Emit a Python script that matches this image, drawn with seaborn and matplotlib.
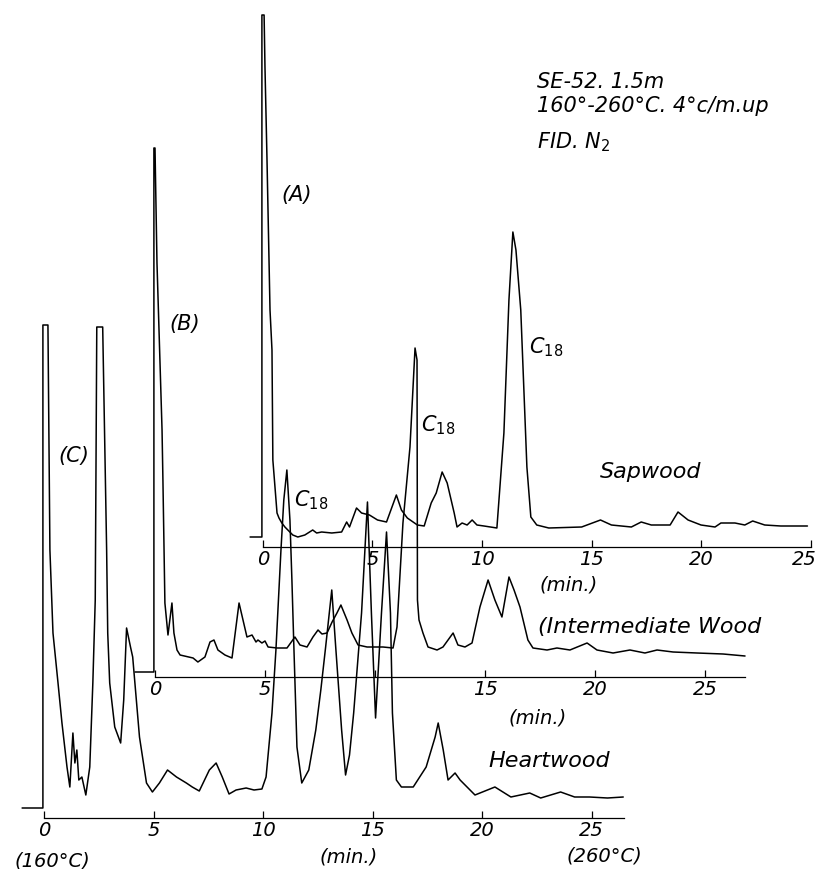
import pandas as pd
import matplotlib
matplotlib.use("Agg")
import matplotlib.pyplot as plt
import matplotlib.transforms as mtrans
import seaborn as sns

# gas chromatograms: (time in min, pen height in chart units)
sapwood = [
    (-0.59, 10), (-0.05, 10), (-0.05, 532), (0.05, 532), (0.09, 480), (0.18, 390),
    (0.32, 237), (0.41, 197), (0.45, 87), (0.64, 34), (0.73, 29), (0.86, 24),
    (1.0, 20), (1.36, 12), (1.59, 10), (1.91, 12), (2.27, 17), (2.45, 14),
    (2.68, 15), (3.14, 14), (3.59, 15), (3.82, 25), (3.95, 20), (4.27, 39),
    (4.5, 34), (4.86, 32), (5.23, 27), (5.64, 25), (6.09, 52), (6.32, 37),
    (6.59, 29), (7.05, 22), (7.36, 21), (7.68, 44), (7.91, 54), (8.18, 75),
    (8.41, 64), (8.73, 34), (8.86, 20), (9.09, 24), (9.32, 22), (9.55, 27),
    (9.77, 22), (10.09, 21), (10.68, 19), (11.0, 114), (11.23, 247), (11.41, 315),
    (11.55, 297), (11.77, 237), (12.05, 80), (12.23, 30), (12.5, 22), (13.05, 19),
    (14.55, 20), (15.41, 27), (15.91, 22), (16.82, 20), (17.27, 25), (17.73, 22),
    (18.59, 22), (18.95, 35), (19.41, 27), (20.0, 22), (20.64, 20), (20.91, 24),
    (21.55, 24), (22.0, 22), (22.36, 26), (22.91, 22), (23.64, 21), (24.86, 21),
]

intermediate = [
    (-0.91, 5), (-0.05, 5), (-0.05, 529), (0.0, 529), (0.09, 414), (0.32, 247),
    (0.36, 197), (0.45, 74), (0.59, 42), (0.77, 74), (0.86, 44), (1.0, 27),
    (1.14, 22), (1.73, 19), (1.95, 15), (2.27, 20), (2.5, 35), (2.68, 37),
    (2.86, 27), (3.18, 22), (3.5, 19), (3.82, 74), (4.0, 57), (4.18, 40),
    (4.41, 42), (4.59, 35), (4.68, 37), (4.86, 34), (5.0, 36), (5.14, 30),
    (5.55, 29), (6.0, 29), (6.36, 40), (6.59, 32), (6.91, 30), (7.18, 40),
    (7.41, 47), (7.59, 43), (7.82, 44), (8.05, 55), (8.27, 64), (8.45, 72),
    (8.73, 57), (8.95, 44), (9.23, 32), (9.64, 30), (10.36, 30), (10.82, 29),
    (11.0, 50), (11.27, 154), (11.59, 230), (11.82, 329), (11.91, 317), (11.93, 77),
    (12.0, 57), (12.18, 44), (12.41, 30), (12.82, 27), (13.09, 30), (13.55, 44),
    (13.77, 32), (14.09, 30), (14.41, 34), (14.77, 70), (15.14, 97), (15.45, 77),
    (15.77, 60), (16.09, 100), (16.32, 87), (16.59, 70), (16.95, 37), (17.18, 29),
    (17.82, 27), (18.27, 29), (18.86, 27), (19.64, 34), (20.09, 27), (20.82, 24),
    (21.59, 27), (22.27, 24), (22.82, 27), (23.55, 25), (24.64, 24), (25.82, 23),
    (26.82, 21),
]

heartwood = [
    (-1.0, 10), (-0.05, 10), (-0.05, 493), (0.18, 493), (0.27, 268), (0.41, 185),
    (0.64, 135), (0.82, 95), (1.05, 51), (1.18, 31), (1.32, 85), (1.41, 55),
    (1.5, 68), (1.59, 38), (1.73, 41), (1.91, 23), (2.09, 51), (2.23, 135),
    (2.34, 218), (2.41, 491), (2.68, 491), (2.86, 268), (2.91, 185), (3.0, 135),
    (3.23, 91), (3.5, 75), (3.64, 118), (3.77, 190), (3.95, 171), (4.05, 161),
    (4.36, 81), (4.68, 35), (4.95, 26), (5.27, 35), (5.64, 48), (6.05, 41),
    (6.5, 35), (6.77, 31), (7.09, 27), (7.55, 48), (7.86, 55), (8.14, 41),
    (8.45, 24), (8.77, 28), (9.23, 30), (9.59, 28), (9.95, 29), (10.14, 41),
    (10.41, 105), (10.59, 168), (10.82, 268), (10.95, 318), (11.09, 348), (11.23, 298),
    (11.32, 238), (11.41, 171), (11.55, 71), (11.77, 35), (12.09, 48), (12.41, 88),
    (12.64, 128), (12.86, 171), (13.14, 228), (13.32, 171), (13.59, 88), (13.77, 43),
    (13.95, 63), (14.14, 105), (14.5, 205), (14.77, 316), (14.95, 205), (15.14, 100),
    (15.41, 205), (15.64, 286), (15.82, 205), (15.91, 105), (16.09, 38), (16.32, 31),
    (16.86, 31), (17.45, 51), (17.86, 81), (18.0, 95), (18.23, 68), (18.45, 38),
    (18.77, 45), (19.0, 38), (19.68, 23), (20.59, 31), (21.32, 21), (22.18, 25),
    (22.68, 20), (23.59, 26), (24.23, 21), (24.91, 21), (25.73, 20), (26.45, 21),
]

tick_minutes = [0, 5, 10, 15, 20, 25]
sap_ticks = ["0", "5", "10", "15", "20", "25"]
inter_ticks = ["0", "5", "", "15", "20", "25"]
heart_ticks = ["0", "5", "10", "15", "20", "25"]

conditions = ["SE-52. 1.5m", "160°-260°C. 4°c/m.up", "FID. N$_2$"]

W, H = 823, 869
PX_UNIT = 1.0   # pixels per response unit

sns.set_style("white")
plt.rcParams["font.family"] = ["DejaVu Sans"]
plt.rcParams["mathtext.fontset"] = "dejavusans"
plt.rcParams["text.color"] = "black"

fig = plt.figure(figsize=(W / 100, H / 100), dpi=100)


def chart_axes(x0, y0, px_min, t_hi, axis_end, labels):
    t_lo, h_lo, h_hi = -1.2, -60, 560
    left = (x0 + t_lo * px_min) / W
    bottom = 1 - (y0 - h_lo * PX_UNIT) / H
    ax = fig.add_axes([left, bottom, (t_hi - t_lo) * px_min / W,
                       (h_hi - h_lo) * PX_UNIT / H])
    ax.set_xlim(t_lo, t_hi)
    ax.set_ylim(h_lo, h_hi)
    ax.patch.set_alpha(0)
    for side in ["left", "right", "top"]:
        ax.spines[side].set_visible(False)
    ax.spines["bottom"].set_position(("data", 0))
    ax.spines["bottom"].set_bounds(0, axis_end)
    ax.spines["bottom"].set_linewidth(0.9)
    ax.spines["bottom"].set_color("black")
    ax.set_yticks([])
    ax.set_xticks(tick_minutes)
    ax.set_xticklabels(labels, fontsize=14, fontstyle="italic", color="black")
    ax.tick_params(axis="x", direction="in", length=5, width=0.9, pad=2,
                   colors="black", bottom=True)
    return ax


def draw_trace(ax, points):
    df = pd.DataFrame(points, columns=["min", "response"])
    sns.lineplot(data=df, x="min", y="response", sort=False, estimator=None,
                 color="black", linewidth=1.1, ax=ax)
    ax.set_xlabel("")
    ax.set_ylabel("")


txt = dict(fontstyle="italic", color="black", ha="center", va="center")

# heartwood (C)
ax_c = chart_axes(44, 818, 21.9, 27.5, 26.5, heart_ticks)
draw_trace(ax_c, heartwood)
ax_c.text(1.36, 362, "(C)", fontsize=15, **txt)
ax_c.text(12.2, 318, "C$_{18}$", fontsize=15, **txt)
ax_c.text(20.3, 57, "Heartwood", fontsize=16, fontstyle="italic", ha="left", va="center")
ax_c.text(13.9, -39, "(min.)", fontsize=14, **txt)
ax_c.text(0.36, -43, "(160°C)", fontsize=14, **txt)
ax_c.text(25.6, -38, "(260°C)", fontsize=14, **txt)

# intermediate wood (B)
ax_b = chart_axes(155, 677, 22.0, 27.5, 26.8, inter_ticks)
draw_trace(ax_b, intermediate)
ax_b.text(1.36, 353, "(B)", fontsize=15, **txt)
ax_b.text(12.86, 252, "C$_{18}$", fontsize=15, **txt)
ax_b.text(17.4, 50, "(Intermediate Wood", fontsize=16, fontstyle="italic", ha="left", va="center")
ax_b.text(17.4, -41, "(min.)", fontsize=14, **txt)

# sapwood (A)
ax_a = chart_axes(263, 547, 21.9, 25.8, 25.0, sap_ticks)
draw_trace(ax_a, sapwood)
ax_a.text(1.55, 352, "(A)", fontsize=15, **txt)
ax_a.text(12.95, 200, "C$_{18}$", fontsize=15, **txt)
ax_a.text(17.7, 75, "Sapwood", fontsize=16, **txt)
ax_a.text(13.95, -38, "(min.)", fontsize=14, **txt)
last = ax_a.get_xticklabels()[-1]
last.set_transform(last.get_transform()
                   + mtrans.ScaledTranslation(-6 / 100, 0, fig.dpi_scale_trans))

# run conditions, top right
for line, y in zip(conditions, [82, 106, 142]):
    fig.text(537 / W, 1 - y / H, line, fontsize=15, fontstyle="italic",
             color="black", ha="left", va="center")

fig.savefig("out.png", dpi=100)
